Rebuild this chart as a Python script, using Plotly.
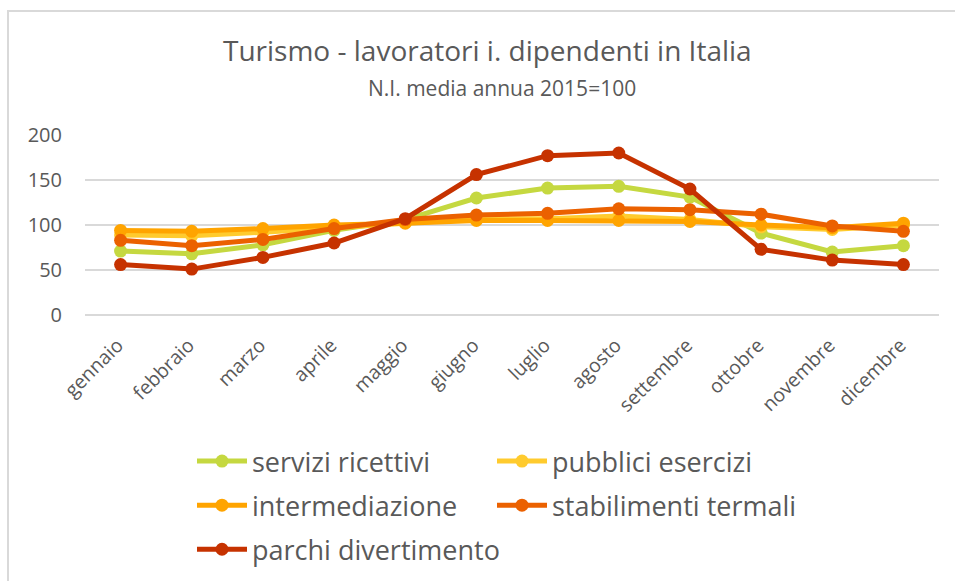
import plotly.graph_objects as go

mesi = ["gennaio", "febbraio", "marzo", "aprile", "maggio", "giugno", "luglio",
        "agosto", "settembre", "ottobre", "novembre", "dicembre"]
servizi_ricettivi = [71, 68, 78, 94, 106, 130, 141, 143, 131, 91, 70, 77]
pubblici_esercizi = [89, 88, 92, 97, 103, 107, 107, 110, 106, 98, 95, 100]
intermediazione = [94, 93, 96, 100, 102, 105, 105, 105, 104, 100, 97, 102]
stabilimenti_termali = [83, 77, 84, 96, 106, 111, 113, 118, 117, 112, 99, 93]
parchi_divertimento = [56, 51, 64, 80, 107, 156, 177, 180, 140, 73, 61, 56]

series = [
    ("servizi ricettivi", servizi_ricettivi, "#C5D840", "legend"),
    ("pubblici esercizi", pubblici_esercizi, "#FFCB2E", "legend2"),
    ("intermediazione", intermediazione, "#FFA400", "legend"),
    ("stabilimenti termali", stabilimenti_termali, "#EB6100", "legend2"),
    ("parchi divertimento", parchi_divertimento, "#C63200", "legend"),
]

FONT = "Open Sans"
GREY = "#595959"

fig = go.Figure()
for name, vals, col, lg in series:
    fig.add_trace(go.Scatter(
        x=mesi, y=vals, name=name, mode="lines+markers",
        line=dict(color=col, width=5),
        marker=dict(color=col, size=13),
        legend=lg, legendgroup=name,
    ))

W, H = 955, 581
L, R, T, B = 85, 16, 135, 266
pw, ph = W - L - R, H - T - B

def px(x):
    return (x - L) / pw

def py(y):
    return (H - B - y) / ph

fig.update_layout(
    width=W, height=H,
    margin=dict(l=L, r=R, t=T, b=B, autoexpand=False),
    paper_bgcolor="white", plot_bgcolor="white",
    font=dict(family=FONT, color=GREY),
    showlegend=True,
    legend=dict(orientation="v", x=px(192), y=py(437), xanchor="left", yanchor="top",
                font=dict(size=27, color=GREY), tracegroupgap=6, itemwidth=50,
                bgcolor="rgba(0,0,0,0)"),
    legend2=dict(orientation="v", x=px(492), y=py(437), xanchor="left", yanchor="top",
                 font=dict(size=27, color=GREY), tracegroupgap=6, itemwidth=50,
                 bgcolor="rgba(0,0,0,0)"),
    xaxis=dict(type="category", range=[-0.5, len(mesi) - 0.5], tickangle=-45,
               showgrid=False, showline=False, zeroline=False, ticks="",
               tickfont=dict(size=19.5, color=GREY), ticklabelstandoff=14,
               ticklabelshift=-3),
    yaxis=dict(range=[0, 200], dtick=50, showgrid=True, gridcolor="#D9D9D9",
               gridwidth=1.5, zeroline=True, zerolinecolor="#D9D9D9", zerolinewidth=1.5,
               showline=False, ticks="", tickfont=dict(size=20, color=GREY),
               ticklabelstandoff=22),
    annotations=[
        dict(text="Turismo - lavoratori i. dipendenti in Italia", xref="paper", yref="paper",
             x=px(487), y=py(50), xanchor="center", yanchor="middle", showarrow=False,
             font=dict(size=28, color=GREY)),
        dict(text="N.I. media annua 2015=100", xref="paper", yref="paper",
             x=px(502), y=py(88), xanchor="center", yanchor="middle", showarrow=False,
             font=dict(size=21, color=GREY)),
    ],
    shapes=[
        dict(type="rect", xref="paper", yref="paper", x0=px(8), x1=px(1100),
             y0=py(900), y1=py(11), line=dict(color="#D9D9D9", width=2),
             fillcolor="rgba(0,0,0,0)", layer="below"),
    ],
)

fig.write_html("out.html", config={"displayModeBar": False},
               post_script="document.body.style.margin='0px';")
